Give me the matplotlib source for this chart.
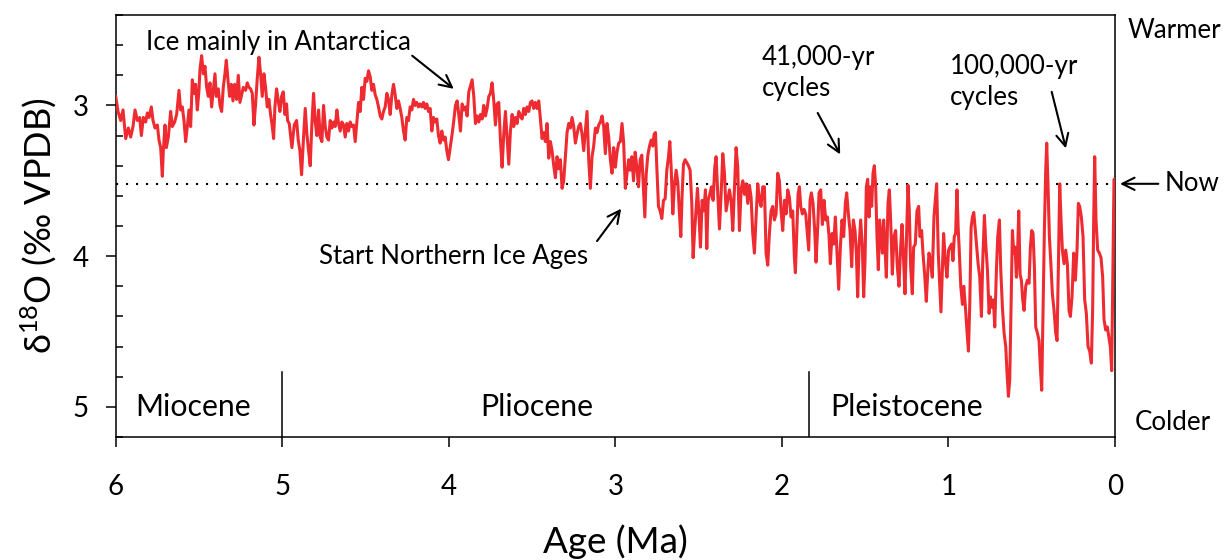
import matplotlib
matplotlib.use("Agg")
import matplotlib.pyplot as plt
from matplotlib.ticker import MultipleLocator

plt.rcParams['font.family'] = ['Lato', 'DejaVu Sans']
plt.rcParams['mathtext.fontset'] = 'custom'
plt.rcParams['mathtext.rm'] = 'Lato'
plt.rcParams['mathtext.it'] = 'Lato'

# Age (Ma) and benthic d18O (permil VPDB)
age = [
    6.000, 5.990, 5.986, 5.970, 5.956, 5.940, 5.924, 5.910, 5.896, 5.884,
    5.870, 5.856, 5.846, 5.834, 5.820, 5.810, 5.800, 5.786, 5.776, 5.764,
    5.750, 5.740, 5.730, 5.720, 5.714, 5.704, 5.696, 5.684, 5.670, 5.660,
    5.646, 5.634, 5.620, 5.610, 5.600, 5.590, 5.580, 5.570, 5.560, 5.550,
    5.540, 5.528, 5.520, 5.510, 5.500, 5.494, 5.484, 5.474, 5.464, 5.454,
    5.444, 5.434, 5.424, 5.414, 5.404, 5.396, 5.384, 5.374, 5.364, 5.354,
    5.344, 5.336, 5.326, 5.316, 5.306, 5.296, 5.286, 5.274, 5.264, 5.254,
    5.244, 5.234, 5.220, 5.210, 5.200, 5.190, 5.180, 5.170, 5.160, 5.150,
    5.140, 5.130, 5.120, 5.110, 5.100, 5.090, 5.080, 5.070, 5.060, 5.052,
    5.044, 5.034, 5.024, 5.014, 5.004, 4.994, 4.984, 4.974,
    4.968, 4.958, 4.942, 4.928, 4.914, 4.904, 4.894, 4.884, 4.874, 4.862,
    4.852, 4.842, 4.832, 4.822, 4.812, 4.802, 4.792, 4.782, 4.772, 4.762,
    4.752, 4.742, 4.732, 4.722, 4.712, 4.702, 4.692, 4.682, 4.672, 4.662,
    4.652, 4.642, 4.632, 4.622, 4.612, 4.602, 4.592, 4.582, 4.572, 4.562,
    4.552, 4.542, 4.532, 4.522, 4.512, 4.502, 4.492, 4.482, 4.472, 4.462,
    4.452, 4.442, 4.432, 4.422, 4.412, 4.402, 4.392, 4.382, 4.372, 4.362,
    4.352, 4.342, 4.332, 4.322, 4.312, 4.302, 4.292, 4.282, 4.272, 4.262,
    4.252, 4.242, 4.232, 4.222, 4.212, 4.202, 4.192, 4.182, 4.172, 4.162,
    4.152, 4.142, 4.132, 4.122, 4.112, 4.102, 4.092, 4.082, 4.072, 4.062,
    4.052, 4.042, 4.032, 4.022, 4.012, 4.002,
    3.980, 3.970, 3.960, 3.950, 3.940, 3.930, 3.920, 3.910, 3.900, 3.890,
    3.880, 3.870, 3.860, 3.850, 3.840, 3.830, 3.820, 3.810, 3.800, 3.790,
    3.780, 3.770, 3.760, 3.750, 3.740, 3.730, 3.720, 3.710, 3.700, 3.690,
    3.680, 3.670, 3.660, 3.650, 3.640, 3.630, 3.620, 3.610, 3.600, 3.590,
    3.580, 3.570, 3.560, 3.550, 3.540, 3.530, 3.520, 3.510, 3.500, 3.490,
    3.480, 3.470, 3.460, 3.450, 3.440, 3.430, 3.420, 3.410, 3.400, 3.390,
    3.380, 3.370, 3.360, 3.350, 3.340, 3.330, 3.320, 3.310, 3.300, 3.290,
    3.280, 3.270, 3.260, 3.250, 3.240, 3.230, 3.220, 3.210, 3.200, 3.190,
    3.180, 3.170, 3.160, 3.150, 3.140, 3.130, 3.120, 3.110, 3.100, 3.090,
    3.080, 3.070, 3.060, 3.050, 3.040, 3.030, 3.020, 3.010, 3.000, 2.990,
    2.980, 2.970, 2.960, 2.950, 2.940, 2.930, 2.920,
    2.911, 2.901, 2.891, 2.881, 2.871, 2.861, 2.851, 2.841, 2.831, 2.823,
    2.815, 2.805, 2.795, 2.785, 2.775, 2.767, 2.759, 2.751, 2.741, 2.731,
    2.721, 2.711, 2.701, 2.691, 2.681, 2.673, 2.665, 2.655, 2.645, 2.635,
    2.625, 2.615, 2.607, 2.599, 2.591, 2.581, 2.571, 2.561, 2.551, 2.541,
    2.533, 2.525, 2.517, 2.507, 2.499, 2.489, 2.479, 2.469, 2.459, 2.451,
    2.443, 2.433, 2.423, 2.413, 2.403, 2.395, 2.385, 2.375, 2.365, 2.355,
    2.345, 2.335, 2.325, 2.315, 2.305, 2.295, 2.285, 2.275, 2.265, 2.255,
    2.245, 2.235, 2.225, 2.215, 2.205, 2.195, 2.185, 2.175, 2.165, 2.155,
    2.145, 2.135, 2.125, 2.115, 2.105, 2.095, 2.085, 2.075, 2.065, 2.055,
    2.045, 2.035, 2.025, 2.015, 2.005, 1.995, 1.985, 1.975, 1.965, 1.955,
    1.945, 1.935, 1.925, 1.919, 1.911, 1.903,
    1.895, 1.887, 1.877, 1.867, 1.857, 1.847, 1.839, 1.831, 1.823, 1.813,
    1.803, 1.795, 1.785, 1.777, 1.767, 1.757, 1.747, 1.737, 1.727, 1.717,
    1.709, 1.699, 1.689, 1.679, 1.669, 1.659, 1.649, 1.639, 1.629, 1.619,
    1.611, 1.601, 1.591, 1.581, 1.571, 1.561, 1.553, 1.545, 1.537, 1.527,
    1.517, 1.509, 1.501, 1.493, 1.485, 1.477, 1.469, 1.461, 1.453, 1.445,
    1.437, 1.429, 1.421, 1.413, 1.405, 1.397, 1.389, 1.381, 1.373, 1.363,
    1.355, 1.347, 1.337, 1.327, 1.317, 1.307, 1.297, 1.287, 1.279, 1.271,
    1.261, 1.253, 1.243, 1.235, 1.227, 1.217, 1.209, 1.199, 1.189, 1.179,
    1.171, 1.161, 1.153, 1.143, 1.133, 1.125, 1.117, 1.107, 1.097, 1.087,
    1.079, 1.071, 1.061, 1.053, 1.045, 1.037, 1.029, 1.019, 1.009, 0.999,
    0.991, 0.981, 0.973, 0.965, 0.957, 0.949, 0.941,
    0.936, 0.926, 0.916, 0.908, 0.898, 0.888, 0.880, 0.872, 0.864, 0.856,
    0.848, 0.840, 0.832, 0.822, 0.812, 0.802, 0.794, 0.784, 0.776, 0.766,
    0.756, 0.748, 0.738, 0.730, 0.722, 0.712, 0.704, 0.694, 0.686, 0.676,
    0.666, 0.656, 0.648, 0.640, 0.632, 0.624, 0.616, 0.608, 0.600, 0.592,
    0.584, 0.578, 0.570, 0.562, 0.554, 0.546, 0.536, 0.526, 0.516, 0.508,
    0.500, 0.492, 0.484, 0.476, 0.466, 0.456, 0.448, 0.440, 0.432, 0.424,
    0.416, 0.410, 0.402, 0.394, 0.386, 0.376, 0.366, 0.356, 0.348, 0.340,
    0.332, 0.324, 0.316, 0.306, 0.296, 0.286, 0.276, 0.268, 0.258, 0.248,
    0.238, 0.228, 0.220, 0.212, 0.202, 0.192, 0.182, 0.172, 0.162, 0.152,
    0.142, 0.134, 0.128, 0.122, 0.114, 0.104, 0.094, 0.084, 0.074, 0.066,
    0.056, 0.046, 0.036, 0.028, 0.020, 0.014, 0.010, 0.006, 0.002,
]
d18o = [
    2.94, 3.01, 3.04, 3.10, 3.03, 3.22, 3.15, 3.21, 3.14, 3.03,
    3.10, 3.08, 3.20, 3.08, 3.11, 3.05, 3.08, 3.01, 3.10, 3.15,
    3.13, 3.23, 3.28, 3.47, 3.30, 3.13, 3.28, 3.21, 3.04, 3.14,
    3.11, 3.06, 2.90, 3.03, 3.01, 3.10, 3.24, 3.14, 3.03, 3.14,
    2.83, 2.92, 2.86, 3.03, 2.90, 2.76, 2.67, 2.79, 2.74, 2.88,
    2.94, 2.85, 3.01, 2.90, 2.79, 2.94, 2.89, 3.00, 3.04, 2.88,
    2.79, 2.70, 2.83, 2.94, 2.86, 2.97, 2.86, 2.96, 2.80, 2.98,
    2.93, 2.88, 2.90, 2.85, 2.88, 2.89, 2.92, 3.13, 2.99, 2.82,
    2.68, 2.79, 2.94, 2.79, 2.88, 3.01, 2.96, 3.06, 3.14, 3.22,
    3.01, 2.89, 2.97, 3.04, 2.94, 2.91, 3.06, 2.99,
    3.10, 3.12, 3.28, 3.13, 3.10, 3.23, 3.30, 3.46, 3.25, 3.02,
    3.19, 3.30, 3.40, 3.12, 2.92, 3.11, 3.20, 3.03, 3.21, 3.24,
    3.00, 3.14, 3.21, 3.23, 3.10, 3.15, 3.11, 3.14, 3.03, 3.12,
    3.17, 3.11, 3.13, 3.21, 3.12, 3.17, 3.11, 3.14, 3.13, 3.24,
    3.11, 2.98, 3.04, 2.88, 2.96, 2.82, 2.84, 2.77, 2.81, 2.90,
    2.86, 2.93, 2.96, 3.01, 3.07, 3.09, 3.04, 3.01, 2.92, 2.96,
    3.06, 2.93, 2.86, 2.93, 3.02, 2.97, 3.02, 3.08, 3.17, 3.23,
    3.08, 3.10, 3.01, 3.03, 2.96, 3.00, 2.98, 3.01, 2.99, 3.01,
    2.98, 3.02, 2.99, 3.04, 3.02, 3.17, 3.08, 3.11, 3.09, 3.20,
    3.25, 3.17, 3.23, 3.21, 3.30, 3.36,
    3.19, 3.10, 3.00, 2.97, 3.06, 3.17, 2.99, 3.03, 3.01, 3.07,
    2.91, 2.87, 2.83, 2.94, 3.12, 3.07, 3.11, 3.06, 3.09, 3.00,
    3.07, 3.02, 2.94, 2.92, 2.85, 2.97, 3.13, 2.99, 2.98, 3.23,
    3.41, 3.19, 3.04, 3.22, 3.39, 3.17, 3.06, 3.14, 3.08, 3.12,
    3.04, 3.07, 3.09, 3.02, 3.06, 3.01, 3.04, 2.98, 2.97, 3.02,
    2.98, 3.02, 2.97, 3.09, 3.22, 3.18, 3.24, 3.12, 3.35, 3.24,
    3.30, 3.40, 3.48, 3.34, 3.42, 3.36, 3.55, 3.50, 3.34, 3.18,
    3.12, 3.15, 3.08, 3.14, 3.25, 3.19, 3.14, 3.12, 3.19, 3.30,
    3.17, 3.04, 3.36, 3.55, 3.34, 3.27, 3.15, 3.18, 3.13, 3.11,
    3.07, 3.14, 3.32, 3.12, 3.21, 3.36, 3.45, 3.28, 3.41, 3.31,
    3.25, 3.24, 3.12, 3.25, 3.55, 3.45, 3.36,
    3.43, 3.34, 3.50, 3.31, 3.41, 3.54, 3.36, 3.33, 3.56, 3.74,
    3.46, 3.33, 3.27, 3.23, 3.27, 3.19, 3.18, 3.41, 3.67, 3.70,
    3.75, 3.63, 3.62, 3.43, 3.34, 3.24, 3.41, 3.72, 3.52, 3.43,
    3.51, 3.72, 3.87, 3.59, 3.39, 3.36, 3.38, 3.40, 3.43, 3.65,
    4.01, 3.85, 3.72, 3.55, 3.70, 3.94, 3.63, 3.70, 3.56, 3.95,
    3.63, 3.59, 3.54, 3.63, 3.41, 3.34, 3.59, 3.82, 3.59, 3.32,
    3.45, 3.70, 3.63, 3.56, 3.63, 3.83, 3.56, 3.28, 3.41, 3.83,
    3.56, 3.50, 3.59, 3.52, 3.65, 3.53, 3.61, 3.85, 3.98, 3.74,
    3.52, 3.63, 3.67, 3.54, 3.54, 3.98, 4.06, 3.85, 3.70, 3.67,
    3.76, 3.72, 3.45, 3.50, 3.70, 3.83, 3.63, 3.72, 3.56, 3.61,
    3.74, 3.70, 4.01, 4.11, 3.85, 3.59,
    3.54, 3.67, 3.72, 3.69, 3.72, 3.85, 3.96, 3.63, 3.58, 3.65,
    3.83, 4.04, 3.81, 3.58, 3.56, 3.79, 3.63, 3.76, 3.74, 3.87,
    4.05, 3.85, 3.92, 3.74, 3.98, 4.22, 3.94, 3.76, 3.87, 3.65,
    3.58, 3.72, 3.83, 4.07, 3.76, 3.83, 3.98, 4.27, 3.94, 3.76,
    3.94, 4.27, 4.03, 3.54, 3.49, 3.74, 3.54, 3.67, 3.45, 3.40,
    3.54, 3.87, 4.09, 3.76, 3.87, 3.98, 3.76, 3.94, 4.14, 3.65,
    3.56, 3.76, 4.12, 3.87, 3.83, 4.07, 4.20, 3.94, 3.79, 3.98,
    4.25, 3.94, 3.53, 3.70, 4.07, 4.25, 3.94, 3.92, 3.70, 3.67,
    3.87, 3.83, 3.98, 4.12, 4.30, 4.12, 3.98, 4.03, 4.14, 3.74,
    3.63, 3.52, 3.98, 4.18, 4.37, 4.12, 3.85, 4.03, 4.14, 3.96,
    3.94, 3.92, 4.03, 3.87, 3.85, 3.56, 3.83,
    3.94, 4.20, 4.32, 4.20, 4.34, 4.51, 4.63, 4.32, 3.81, 3.74,
    3.71, 3.81, 3.92, 4.05, 4.14, 4.40, 4.03, 3.73, 3.92, 4.09,
    4.38, 4.27, 4.34, 4.29, 4.47, 4.09, 3.87, 3.76, 4.09, 4.34,
    4.51, 4.60, 4.78, 4.93, 4.82, 4.32, 3.83, 3.98, 3.94, 4.14,
    3.94, 3.70, 4.12, 4.16, 4.29, 4.36, 4.20, 4.16, 4.18, 3.94,
    3.83, 3.85, 4.07, 4.47, 4.51, 4.56, 4.74, 4.89, 4.34, 3.83,
    3.43, 3.25, 3.54, 3.87, 4.03, 4.25, 4.36, 4.51, 4.56, 4.07,
    3.52, 3.76, 3.96, 4.05, 3.96, 4.05, 4.36, 4.40, 4.27, 3.98,
    4.16, 3.96, 3.65, 3.67, 3.74, 3.87, 4.29, 4.38, 4.60, 4.63,
    4.71, 4.34, 3.76, 3.34, 3.76, 3.96, 3.98, 4.01, 4.14, 4.42,
    4.49, 4.47, 4.54, 4.60, 4.76, 4.20, 3.83, 3.49, 3.49,
]

now_value = 3.52
epoch_bounds = [5.0, 1.84]
epoch_names = ["Miocene", "Pliocene", "Pleistocene"]
x_ticks = [6, 5, 4, 3, 2, 1, 0]
y_ticks = [3, 4, 5]

W, H = 1225, 560
fig = plt.figure(figsize=(W / 100, H / 100), dpi=100)
ax = fig.add_axes([115.7 / W, 1 - 437 / H, (1115 - 115.7) / W, (437 - 15) / H])

ax.plot(age, d18o, color='#EE2B30', lw=2.2, zorder=3)
ax.plot([6, 0], [now_value, now_value], color='black', lw=1.5,
        linestyle=(0, (1, 3.8)), zorder=2)

for b in epoch_bounds:
    ax.plot([b, b], [4.77, 5.2], color='black', lw=1.1)

ax.set_xlim(6, 0)
ax.set_ylim(5.2, 2.4)

for s in ax.spines.values():
    s.set_linewidth(1.1)

ax.set_xticks(x_ticks)
ax.set_xticklabels([str(t) for t in x_ticks])
ax.set_yticks(y_ticks)
ax.set_yticklabels([str(t) for t in y_ticks])
ax.yaxis.set_minor_locator(MultipleLocator(0.2))
ax.tick_params(axis='x', which='major', direction='out', length=7.5, width=1.1,
               pad=19, labelsize=20)
ax.tick_params(axis='y', which='major', direction='out', length=7.5, width=1.1,
               pad=12, labelsize=20)
ax.tick_params(axis='y', which='minor', direction='in', length=5, width=1.1)

ax.set_xlabel("Age (Ma)", fontsize=26.5, labelpad=18)
ax.set_ylabel("δ$^{18}$O (‰ VPDB)", fontsize=26, labelpad=10)

ax.text(5.88, 5.0, epoch_names[0], fontsize=21.8, ha='left', va='center')
ax.text(3.47, 5.0, epoch_names[1], fontsize=21.8, ha='center', va='center')
ax.text(1.71, 5.0, epoch_names[2], fontsize=21.8, ha='left', va='center')

fs = 18.6
arrow = dict(arrowstyle='->', color='black', lw=1.5, mutation_scale=22,
             shrinkA=0, shrinkB=0)
ax.annotate("", xy=(3.97, 2.89), xytext=(4.22, 2.67), arrowprops=arrow)
ax.text(5.82, 2.58, "Ice mainly in Antarctica", fontsize=fs, ha='left', va='center')

ax.annotate("", xy=(2.965, 3.685), xytext=(3.11, 3.90), arrowprops=arrow)
ax.text(4.78, 4.005, "Start Northern Ice Ages", fontsize=fs, ha='left', va='center')

ax.annotate("", xy=(1.65, 3.325), xytext=(1.785, 3.05), arrowprops=arrow)
ax.text(2.12, 2.60, "41,000-yr\ncycles", fontsize=fs, ha='left', va='top',
        linespacing=1.3)

ax.annotate("", xy=(0.295, 3.285), xytext=(0.38, 2.91), arrowprops=arrow)
ax.text(0.99, 2.66, "100,000-yr\ncycles", fontsize=fs, ha='left', va='top',
        linespacing=1.3)

ax.annotate("", xy=(-0.03, now_value), xytext=(-0.26, now_value),
            arrowprops=arrow, annotation_clip=False)
ax.text(-0.30, now_value, "Now", fontsize=fs, ha='left', va='center', clip_on=False)

fig.text(1128 / W, 1 - 30 / H, "Warmer", fontsize=fs, ha='left', va='center')
fig.text(1135 / W, 1 - 422 / H, "Colder", fontsize=fs, ha='left', va='center')

fig.savefig("out.png", dpi=100)
